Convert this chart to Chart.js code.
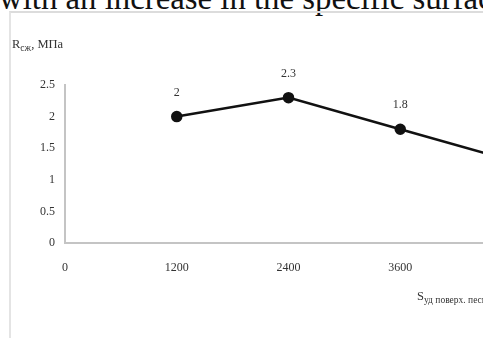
<!DOCTYPE html>
<html>
<head>
<meta charset="utf-8">
<script src="https://cdn.jsdelivr.net/npm/chart.js@4/dist/chart.umd.min.js"></script>
<style>
  html, body { margin: 0; padding: 0; background: #fff; }
  body { width: 483px; height: 338px; overflow: hidden; position: relative; font-family: "Liberation Serif", "DejaVu Serif", serif; }
  #lead { position: absolute; left: -1px; top: -18px; font-size: 32.8px; line-height: 32px; color: #111; white-space: nowrap; }
  #frame { position: absolute; left: 9px; top: 11px; right: -10px; bottom: -10px; border-top: 2px solid #dcdcdc; border-left: 2px solid #e4e4e4; }
  #chartBox { position: absolute; left: 0; top: 0; width: 560px; height: 338px; }
  .ttl { position: absolute; color: #333; white-space: nowrap; font-size: 12.5px; }
  .ttl sub { font-size: 9.5px; vertical-align: -3px; }
  #yTitle { left: 12px; top: 37px; }
  #xTitle { left: 417px; top: 289px; }
</style>
</head>
<body>
<div id="lead">with an increase in the specific surface</div>
<div id="frame"></div>
<div id="chartBox"><canvas id="c" width="560" height="338"></canvas></div>
<div class="ttl" id="yTitle">R<sub>сж</sub>, МПа</div>
<div class="ttl" id="xTitle">S<sub>уд поверх. песка, см²/г</sub></div>
<script>
// specific surface of sand, cm²/g
const surface = [1200, 2400, 3600, 4800];
// compressive strength, MPa
const strength = [2, 2.3, 1.8, 1.3];
// axis ranges
const xTicks = [0, 1200, 2400, 3600, 4800];
const yTicks = [0, 0.5, 1, 1.5, 2, 2.5];

const serif = '"Liberation Serif", "DejaVu Serif", serif';

// value captions above each point
const valueLabels = {
  id: 'valueLabels',
  afterDatasetsDraw(chart) {
    const ctx = chart.ctx;
    const meta = chart.getDatasetMeta(0);
    ctx.save();
    ctx.font = '12px ' + serif;
    ctx.fillStyle = '#333';
    ctx.textAlign = 'center';
    ctx.textBaseline = 'middle';
    meta.data.forEach((pt, i) => {
      ctx.fillText(String(strength[i]), pt.x, pt.y - 24);
    });
    ctx.restore();
  }
};

new Chart(document.getElementById('c'), {
  type: 'line',
  data: {
    datasets: [{
      data: surface.map((s, i) => ({ x: s, y: strength[i] })),
      borderColor: '#111',
      backgroundColor: '#111',
      borderWidth: 2.5,
      pointRadius: 4.5,
      pointBackgroundColor: '#111',
      pointBorderColor: '#111',
      tension: 0,
      fill: false
    }]
  },
  options: {
    responsive: false,
    animation: false,
    devicePixelRatio: 1,
    layout: { padding: { top: 85, right: 48, left: 0, bottom: 0 } },
    plugins: { legend: { display: false }, tooltip: { enabled: false } },
    scales: {
      x: {
        type: 'linear',
        min: xTicks[0],
        max: xTicks[xTicks.length - 1],
        afterBuildTicks: s => { s.ticks = xTicks.map(v => ({ value: v })); },
        afterFit: s => { s.height = 95; },
        grid: { display: false, drawTicks: false },
        border: { color: '#c4c4c4', width: 2 },
        ticks: { color: '#333', font: { family: serif, size: 12 }, padding: 18, callback: v => String(v) }
      },
      y: {
        min: yTicks[0],
        max: yTicks[yTicks.length - 1],
        afterBuildTicks: s => { s.ticks = yTicks.map(v => ({ value: v })); },
        afterFit: s => { s.width = 65; },
        grid: { display: false, drawTicks: false },
        border: { color: '#c4c4c4', width: 2 },
        ticks: { color: '#333', font: { family: serif, size: 12 }, padding: 10, callback: v => String(v) }
      }
    }
  },
  plugins: [valueLabels]
});
</script>
</body>
</html>
